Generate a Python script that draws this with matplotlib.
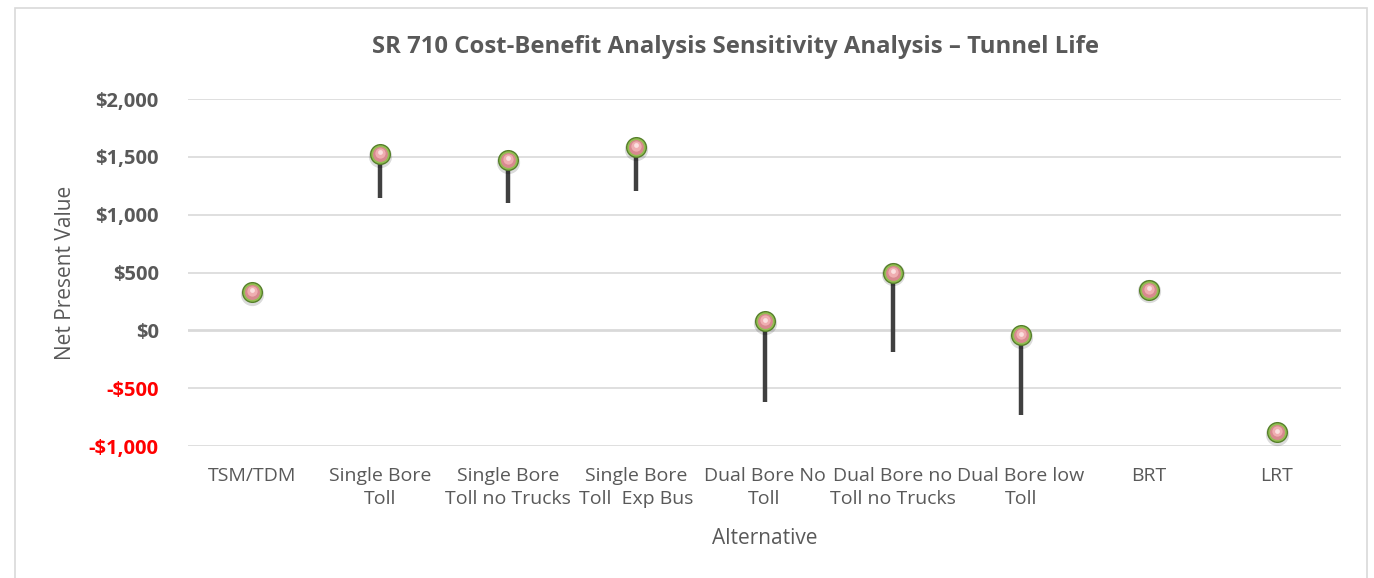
import matplotlib
matplotlib.use("Agg")
import matplotlib.pyplot as plt
from matplotlib.patches import Rectangle
import numpy as np

categories = ["TSM/TDM", "Single Bore\nToll", "Single Bore\nToll no Trucks",
              "Single Bore\nToll  Exp Bus", "Dual Bore No\nToll",
              "Dual Bore no\nToll no Trucks", "Dual Bore low\nToll", "BRT", "LRT"]
npv_high = [332, 1525, 1473, 1588, 78, 500, -43, 353, -881]
npv_low = [332, 1144, 1098, 1207, -621, -188, -728, 353, -881]
ytick_vals = [-1000, -500, 0, 500, 1000, 1500, 2000]
ytick_labels = ["-$1,000", "-$500", "$0", "$500", "$1,000", "$1,500", "$2,000"]

W, H = 1374, 578
fig = plt.figure(figsize=(W / 100, H / 100), dpi=100)
fig.patch.set_facecolor("white")

font = "Open Sans"
gray = "#595959"

# chart frame
fig.patches.append(Rectangle((14.5 / W, -0.05), (1367 - 14.5) / W, (H - 7.5) / H + 0.05,
                             transform=fig.transFigure, fill=False,
                             edgecolor="#d9d9d9", linewidth=1.2, zorder=0))

ax = fig.add_axes([188 / W, 1 - 446 / H, (1341 - 188) / W, (446 - 99) / H])
x = np.arange(len(categories))
ax.set_xlim(-0.5, len(categories) - 0.5)
ax.set_ylim(-1000, 2000)

for v in ytick_vals:
    ax.axhline(v, color="#d9d9d9", lw=2.0 if v == 0 else 1.2, zorder=1)

for s in ax.spines.values():
    s.set_visible(False)

# high-low stems
for xi, lo, hi in zip(x, npv_low, npv_high):
    if hi != lo:
        ax.plot([xi, xi], [lo, hi], color="#404040", lw=3.2,
                solid_capstyle="butt", zorder=2)

# glossy ball markers
ax.scatter(x, np.array(npv_high) - 16, s=280, color="#000000", alpha=0.14,
           linewidths=0, zorder=3)
ax.scatter(x, npv_high, s=230, color="#55802a", linewidths=0, zorder=4)
ax.scatter(x, npv_high, s=175, color="#94bd52", linewidths=0, zorder=5)
ax.scatter(x, npv_high, s=115, color="#d8898f", linewidths=0, zorder=6)
ax.scatter(x, np.array(npv_high) + 8, s=55, color="#efaeb1", linewidths=0, zorder=7)
ax.scatter(x, np.array(npv_high) + 14, s=12, color="#fbe0e0", linewidths=0, zorder=8)

ax.set_yticks(ytick_vals)
ax.set_yticklabels(ytick_labels)
for lbl, v in zip(ax.get_yticklabels(), ytick_vals):
    lbl.set_fontfamily(font)
    lbl.set_fontweight("bold")
    lbl.set_fontsize(14.5)
    lbl.set_color("#ff0000" if v < 0 else gray)
ax.tick_params(axis="y", length=0, pad=21)

ax.set_xticks(x)
ax.set_xticklabels(categories, fontfamily=font, fontsize=14, color=gray,
                   linespacing=1.4)
ax.tick_params(axis="x", length=0, pad=15)

ax.set_ylabel("Net Present Value", fontfamily=font, fontsize=15, color=gray,
              labelpad=9)
ax.set_xlabel("Alternative", fontfamily=font, fontsize=15, color=gray, labelpad=14)

fig.text(735 / W, 1 - 47 / H,
         "SR 710 Cost-Benefit Analysis Sensitivity Analysis \u2013 Tunnel Life",
         ha="center", va="center", fontfamily=font, fontweight="bold",
         fontsize=17.2, color=gray)

fig.savefig("out.png", dpi=100, facecolor="white")
